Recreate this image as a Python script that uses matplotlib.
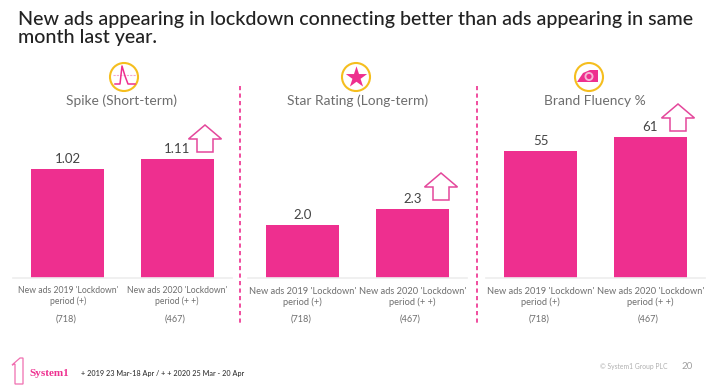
import matplotlib
matplotlib.use('Agg')
import matplotlib.pyplot as plt
from matplotlib.patches import Circle, Polygon
from matplotlib.markers import MarkerStyle

W, H = 720, 388
PINK = '#EE2F8F'
GOLD = '#F5BE1E'
GREY = '#6E6E6E'

plt.rcParams['font.family'] = ['Lato', 'DejaVu Sans']

# data
categories = ["New ads 2019 'Lockdown'\nperiod (+)", "New ads 2020 'Lockdown'\nperiod (+ +)"]
bases = ['(718)', '(467)']
titles = ['Spike (Short-term)', 'Star Rating (Long-term)', 'Brand Fluency %']
spike = [1.02, 1.11]
star = [2.0, 2.3]
fluency = [55, 61]
spike_labels = ['1.02', '1.11']
star_labels = ['2.0', '2.3']
fluency_labels = ['55', '61']

fig = plt.figure(figsize=(W / 100, H / 100), dpi=100, facecolor='white')

# overlay in pixel coords for the slide decoration
bg = fig.add_axes([0, 0, 1, 1], zorder=3)
bg.set_xlim(0, W)
bg.set_ylim(H, 0)
bg.axis('off')
bg.patch.set_alpha(0)


def panel(left, right, values, labels, ylim, label_size, pad):
    ax = fig.add_axes([left / W, 1 - 278 / H, (right - left) / W, 218 / H])
    ax.bar([0, 1], values, width=0.667, color=PINK)
    ax.set_xlim(-0.5, 1.5)
    ax.set_ylim(*ylim)
    ax.patch.set_alpha(0)
    for s in ['top', 'left', 'right']:
        ax.spines[s].set_visible(False)
    ax.spines['bottom'].set_color('#EDEDED')
    ax.spines['bottom'].set_linewidth(1.2)
    ax.set_yticks([])
    ax.set_xticks([0, 1])
    ax.set_xticklabels(categories, fontsize=label_size, color=GREY, linespacing=1.25)
    ax.tick_params(axis='x', length=0, pad=pad)
    for i, v in enumerate(values):
        ax.annotate(labels[i], (i, v), xytext=(0, 4), textcoords='offset pixels',
                    ha='center', va='bottom', fontsize=9.5, color='#444444')
        ax.annotate(bases[i], (i, ylim[0]), xytext=(-2, -41), textcoords='offset pixels',
                    ha='center', va='center', fontsize=6.6, color=GREY)
    return ax


panel(13, 232, spike, spike_labels, (0, 2.04), 6.2, 5.5)
panel(248, 467, star, star_labels, (1, 5.09), 6.7, 6.5)
panel(486, 705, fluency, fluency_labels, (0, 94.4), 6.7, 6.5)

# title
bg.text(18, 20, 'New ads appearing in lockdown connecting better than ads appearing in same',
        fontsize=14.1, color='#222222', va='center', fontweight='medium')
bg.text(18, 37, 'month last year.', fontsize=14.1, color='#222222', va='center', fontweight='medium')

# panel headings + icons
for t, tx in zip(titles, [122, 358, 595]):
    bg.text(tx, 101, t, fontsize=9.9, color=GREY, ha='center', va='center')
icon_x = [124, 356, 589]
for cx in icon_x:
    bg.add_patch(Circle((cx, 77), 14, fc='white', ec=GOLD, lw=1.5))

# spike icon
bg.plot([113, 136], [74.5, 74.5], color='#F6A6CE', lw=0.8, ls=(0, (2, 1)))
bg.plot([115, 120, 122, 125, 128, 135], [84, 84, 66, 76, 84, 84], color=PINK, lw=1.1)
# star icon
bg.scatter([356], [77], s=260, marker=MarkerStyle('*'), color=PINK, linewidths=0)
# brand fluency eye icon
bg.add_patch(Polygon([(577, 82), (583, 73), (590, 70), (598, 70), (598, 82)], fc=PINK, ec='none'))
bg.add_patch(Circle((589, 76.5), 4.5, fc='#F6B6D6', ec='none'))
bg.add_patch(Circle((589, 76.5), 2.6, fc=PINK, ec='none'))

# up arrows
for tipx, tipy in [(205, 125), (441, 173), (678, 104)]:
    pts = [(tipx, tipy), (tipx + 16.5, tipy + 14), (tipx + 8, tipy + 14), (tipx + 8, tipy + 27),
           (tipx - 8, tipy + 27), (tipx - 8, tipy + 14), (tipx - 16.5, tipy + 14)]
    bg.add_patch(Polygon(pts, fc='white', ec='#E4479B', lw=1.1))

# dashed dividers
for x in [240, 477]:
    bg.plot([x, x], [86, 326], color=PINK, lw=1.2, ls=(0, (2.5, 2)))

# footer
logo = [(12, 365), (20, 358), (23, 358), (23, 384), (15, 384), (15, 364)]
bg.add_patch(Polygon(logo, fc='white', ec='#F06FB0', lw=0.9))
bg.text(29, 373, 'System1', fontsize=8, color=PINK, va='center', fontweight='bold',
        family='Liberation Serif')
bg.text(81, 373.5, '+ 2019 23 Mar-18 Apr / + + 2020 25 Mar - 20 Apr', fontsize=5.2,
        color='#333333', va='center', fontweight='medium')
bg.text(600, 366.5, '© System1 Group PLC', fontsize=4.9, color='#B0B0B0', va='center')
bg.text(681, 366.5, '20', fontsize=7, color='#A0A0A0', va='center')

fig.savefig('out.png', dpi=100)
